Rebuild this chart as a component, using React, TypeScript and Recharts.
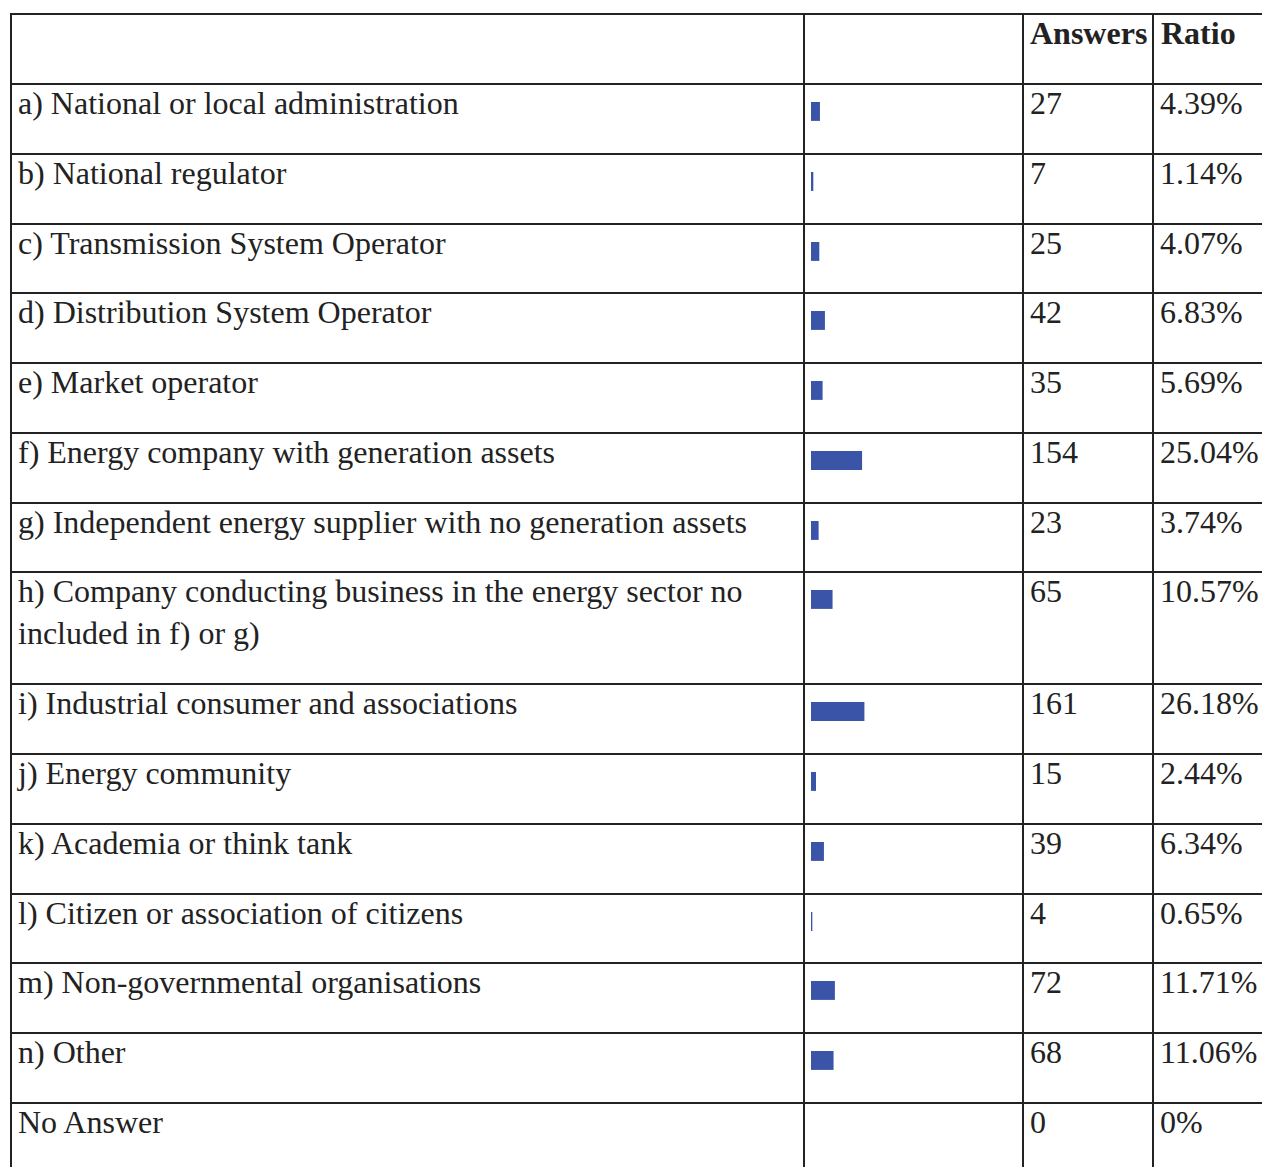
import React from "react";
import { BarChart, Bar, XAxis, YAxis } from "recharts";

const categories = [
  "a) National or local administration",
  "b) National regulator",
  "c) Transmission System Operator",
  "d) Distribution System Operator",
  "e) Market operator",
  "f) Energy company with generation assets",
  "g) Independent energy supplier with no generation assets",
  "h) Company conducting business in the energy sector no included in f) or g)",
  "i) Industrial consumer and associations",
  "j) Energy community",
  "k) Academia or think tank",
  "l) Citizen or association of citizens",
  "m) Non-governmental organisations",
  "n) Other",
  "No Answer",
];
const answers = [27, 7, 25, 42, 35, 154, 23, 65, 161, 15, 39, 4, 72, 68, 0];
const ratios = [4.39, 1.14, 4.07, 6.83, 5.69, 25.04, 3.74, 10.57, 26.18, 2.44, 6.34, 0.65, 11.71, 11.06, 0];
const headerLabels = ["Answers", "Ratio"];

const FONT = '"Liberation Serif", "Times New Roman", serif';
const LINE_COLOR = "#222222";
const TEXT_COLOR = "#222222";
const BAR_COLOR = "#3a55a7";

const COL_X = [11, 804, 1023, 1153];
const HEADER_TOP = 14;
const HEADER_H = 70;
const ROW_H = 69.75;
const LINE_H = 42;
const W = 1262;
const H = 1167;

function fmtRatio(r: number) {
  return r === 0 ? "0%" : r.toFixed(2) + "%";
}

function MiniBar({ label, ratio }: { label: string; ratio: number }) {
  return (
    <BarChart
      width={204}
      height={21}
      data={[{ label, ratio }]}
      layout="vertical"
      margin={{ top: 0, right: 0, bottom: 0, left: 0 }}
      barCategoryGap={0}
    >
      <XAxis type="number" domain={[0, 100]} hide />
      <YAxis type="category" dataKey="label" hide />
      <Bar dataKey="ratio" fill={BAR_COLOR} barSize={21} isAnimationActive={false} />
    </BarChart>
  );
}

export default function App() {
  const rows = categories.map((c, i) => ({
    label: c,
    answers: answers[i],
    ratio: ratios[i],
    lines: c.length > 60 ? 2 : 1,
  }));
  const tops: number[] = [];
  let y = HEADER_TOP + HEADER_H;
  rows.forEach((r) => {
    tops.push(y);
    y += ROW_H + (r.lines - 1) * (LINE_H + 0.25);
  });
  const hLines = [HEADER_TOP, ...tops, y];

  const textStyle: React.CSSProperties = {
    position: "absolute",
    fontFamily: FONT,
    fontSize: 32,
    lineHeight: LINE_H + "px",
    color: TEXT_COLOR,
    whiteSpace: "nowrap",
  };

  return (
    <div
      style={{
        position: "fixed",
        left: 0,
        top: 0,
        width: W,
        height: H,
        overflow: "hidden",
        background: "#ffffff",
      }}
    >
      {hLines.map((ly, i) => (
        <div
          key={"h" + i}
          style={{ position: "absolute", left: COL_X[0] - 1, top: ly - 1, width: W, height: 2, background: LINE_COLOR }}
        />
      ))}
      {COL_X.map((lx, i) => (
        <div
          key={"v" + i}
          style={{ position: "absolute", left: lx - 1, top: HEADER_TOP - 1, width: 2, height: H, background: LINE_COLOR }}
        />
      ))}
      <div style={{ ...textStyle, left: COL_X[2] + 7, top: HEADER_TOP - 2, fontWeight: "bold" }}>{headerLabels[0]}</div>
      <div style={{ ...textStyle, left: COL_X[3] + 8, top: HEADER_TOP - 2, fontWeight: "bold" }}>{headerLabels[1]}</div>
      {rows.map((r, i) => (
        <React.Fragment key={i}>
          <div
            style={{
              ...textStyle,
              left: COL_X[0] + 7,
              top: tops[i] - 2,
              width: 775,
              whiteSpace: "normal",
            }}
          >
            {r.label}
          </div>
          <div style={{ position: "absolute", left: COL_X[1] + 7, top: tops[i] + 17 }}>
            <MiniBar label={r.label} ratio={r.ratio} />
          </div>
          <div style={{ ...textStyle, left: COL_X[2] + 7, top: tops[i] - 2 }}>{String(r.answers)}</div>
          <div style={{ ...textStyle, left: COL_X[3] + 7, top: tops[i] - 2 }}>{fmtRatio(r.ratio)}</div>
        </React.Fragment>
      ))}
    </div>
  );
}
